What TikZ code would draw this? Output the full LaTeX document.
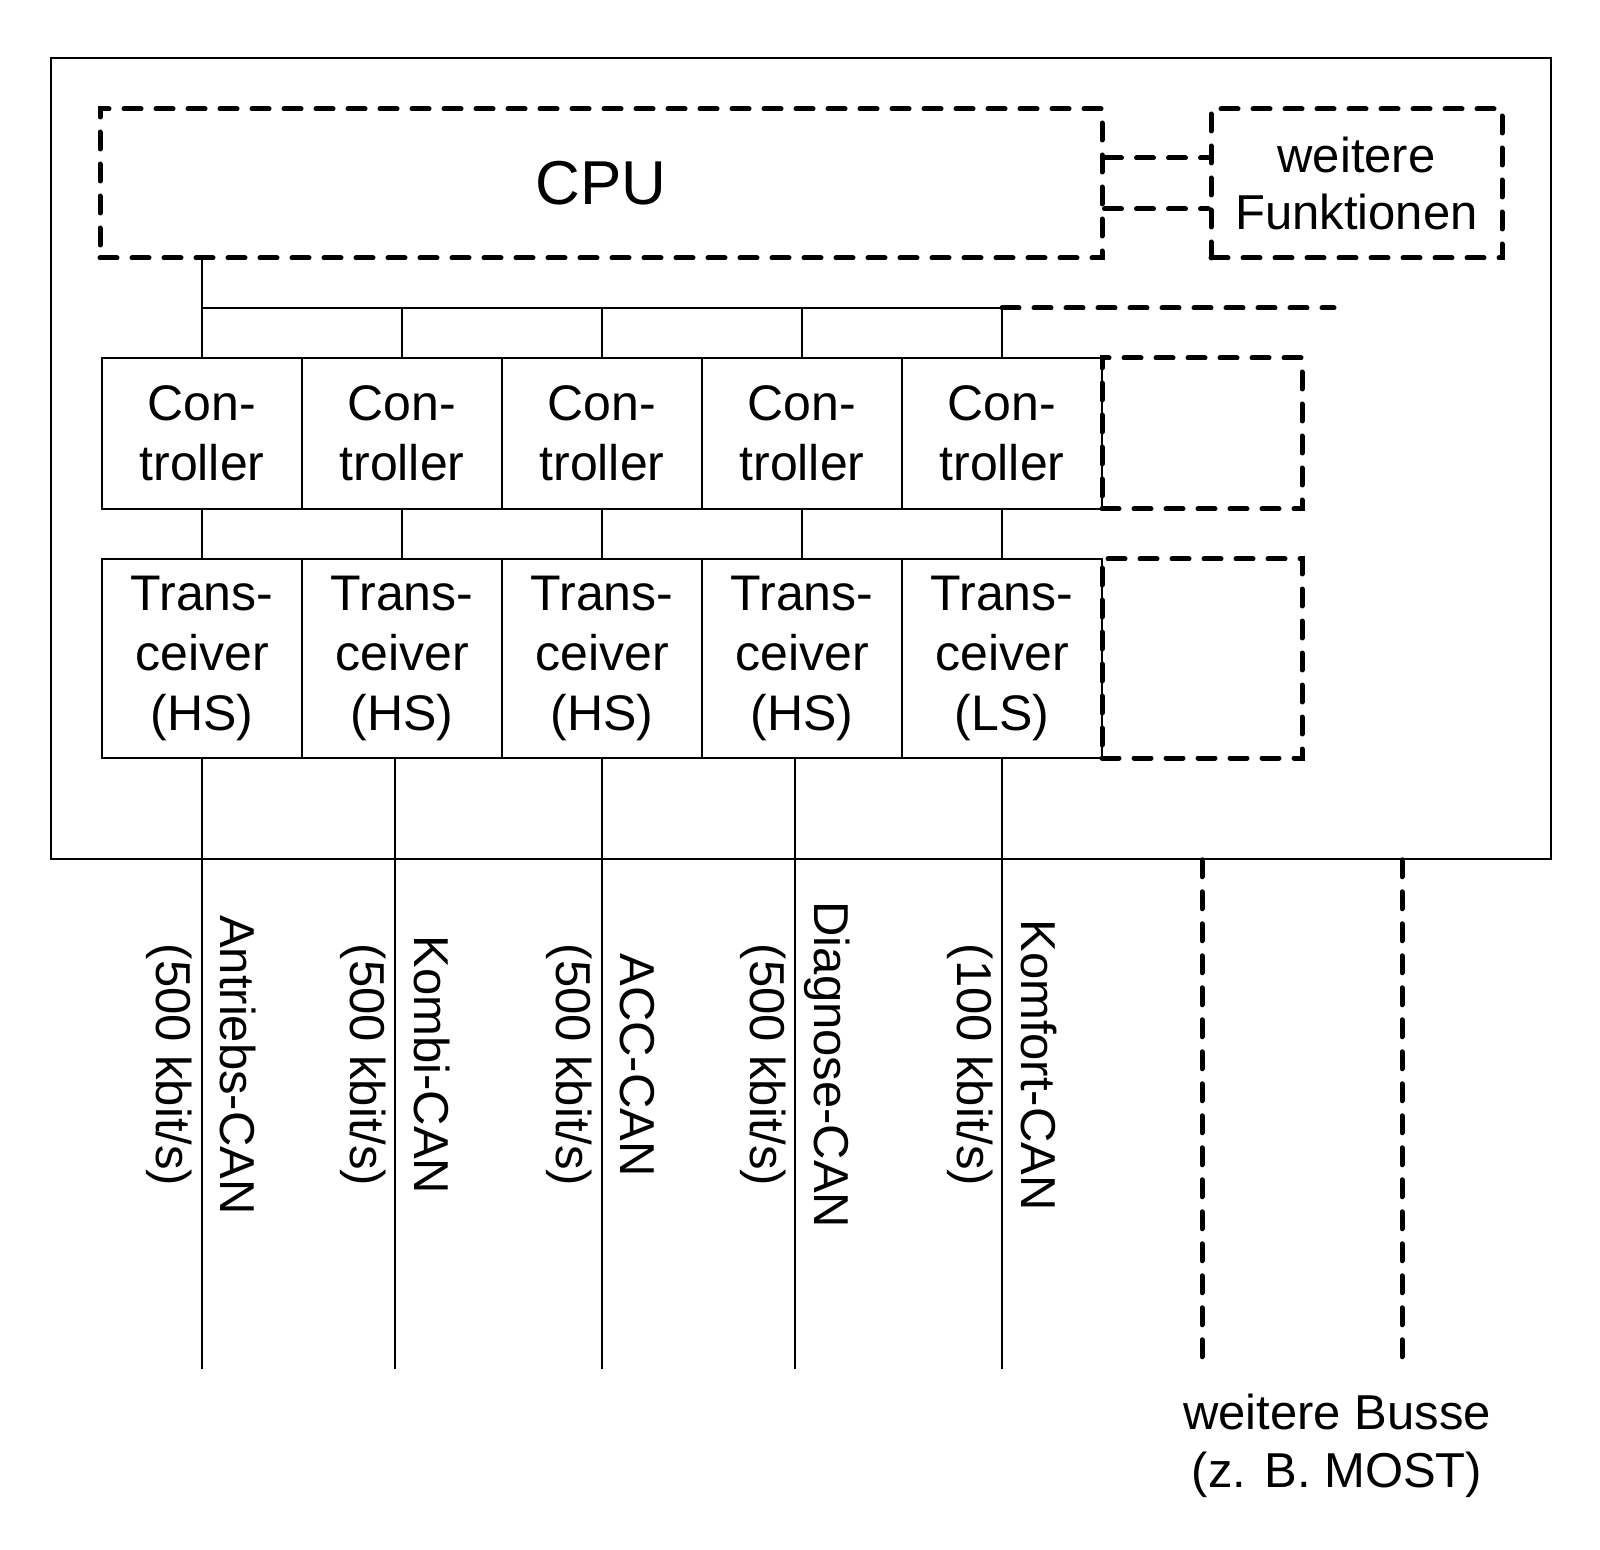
\documentclass[tikz,border=0pt]{standalone}
\usepackage{fontspec}
\setmainfont{Liberation Sans}
\begin{document}
\begin{tikzpicture}[x=0.5pt,y=-0.5pt,
  thinline/.style={line width=0.75pt},
  dashline/.style={line width=2.5pt,line cap=round,dash pattern=on 8.5pt off 7.5pt},
  solidbox/.style={draw,thinline,inner sep=0pt,align=center,font=\fontsize{25pt}{30pt}\selectfont},
  dashbox/.style={draw,dashline,inner sep=0pt,align=center},
  ctrl/.style={solidbox,minimum width=100pt,minimum height=75.5pt},
  trx/.style={solidbox,minimum width=100pt,minimum height=99.5pt},
  buslabel/.style={rotate=-90,align=center,inner sep=0pt,font=\fontsize{24.5pt}{32pt}\selectfont}]
\useasboundingbox (0,0) rectangle (1600,1550);
% outer ECU box
\node[draw,thinline,minimum width=750pt,minimum height=400.5pt,inner sep=0pt] (ecu) at (801,458.5) {};
% CPU and further functions
\node[dashbox,minimum width=501pt,minimum height=74.5pt,font=\fontsize{31pt}{36pt}\selectfont] (cpu) at (601,183.5) {CPU};
\node[dashbox,minimum width=145.5pt,minimum height=74.5pt,font=\fontsize{24.5pt}{28.5pt}\selectfont] (wf) at (1356.5,183.5) {weitere\\Funktionen};
\draw[dashline] ([yshift=12.75pt]cpu.east) -- ([yshift=12.75pt]wf.west);
\draw[dashline] ([yshift=-12.75pt]cpu.east) -- ([yshift=-12.75pt]wf.west);
% controllers
\node[ctrl] (c1) at (202,433.5) {Con-\\troller};
\node[ctrl] (c2) at (402,433.5) {Con-\\troller};
\node[ctrl] (c3) at (602,433.5) {Con-\\troller};
\node[ctrl] (c4) at (802,433.5) {Con-\\troller};
\node[ctrl] (c5) at (1002,433.5) {Con-\\troller};
\node[dashbox,minimum width=100pt,minimum height=75.5pt] (c6) at (1202,433.5) {};
% transceivers
\node[trx] (t1) at (202,658.5) {Trans-\\ceiver\\(HS)};
\node[trx] (t2) at (402,658.5) {Trans-\\ceiver\\(HS)};
\node[trx] (t3) at (602,658.5) {Trans-\\ceiver\\(HS)};
\node[trx] (t4) at (802,658.5) {Trans-\\ceiver\\(HS)};
\node[trx] (t5) at (1002,658.5) {Trans-\\ceiver\\(LS)};
\node[dashbox,minimum width=100pt,minimum height=99.5pt] (t6) at (1202,658.5) {};
% internal bus
\coordinate (bus) at (0,308);
\coordinate (busend) at (1334,308);
\draw[thinline] (cpu.south -| c1.north) -- (c1.north);
\draw[thinline] (bus -| c1.north) -- (bus -| c5.north);
\draw[dashline] (bus -| c5.north) -- (busend);
\foreach \i in {2,3,4,5} {\draw[thinline] (bus -| c\i.north) -- (c\i.north);}
\foreach \i in {1,2,3,4,5} {\draw[thinline] (c\i.south) -- (t\i.north);}
% external buses
\coordinate (bb) at (0,1369);
\draw[thinline] (t1.south) -- (t1.south |- bb);
\draw[thinline] ([xshift=-3.5pt]t2.south) -- ([xshift=-3.5pt]t2.south |- bb);
\draw[thinline] (t3.south) -- (t3.south |- bb);
\draw[thinline] ([xshift=-3.5pt]t4.south) -- ([xshift=-3.5pt]t4.south |- bb);
\draw[thinline] (t5.south) -- (t5.south |- bb);
\coordinate (db1) at (1202,1357);
\coordinate (db2) at (1402,1357);
\draw[dashline] (ecu.south -| db1) -- (db1);
\draw[dashline] (ecu.south -| db2) -- (db2);
% labels
\node[buslabel] (l1) at (201,1065) {Antriebs-CAN\\(500 kbit/s)};
\node[buslabel] (l2) at (395,1065) {Kombi-CAN\\(500 kbit/s)};
\node[buslabel] (l3) at (601,1065) {ACC-CAN\\(500 kbit/s)};
\node[buslabel] (l4) at (795,1065) {Diagnose-CAN\\(500 kbit/s)};
\node[buslabel] (l5) at (1002,1065) {Komfort-CAN\\(100 kbit/s)};
\node[align=center,inner sep=0pt,font=\fontsize{24.5pt}{29pt}\selectfont] (wb) at (1337,1446) {weitere Busse\\(z. B. MOST)};
\end{tikzpicture}
\end{document}
